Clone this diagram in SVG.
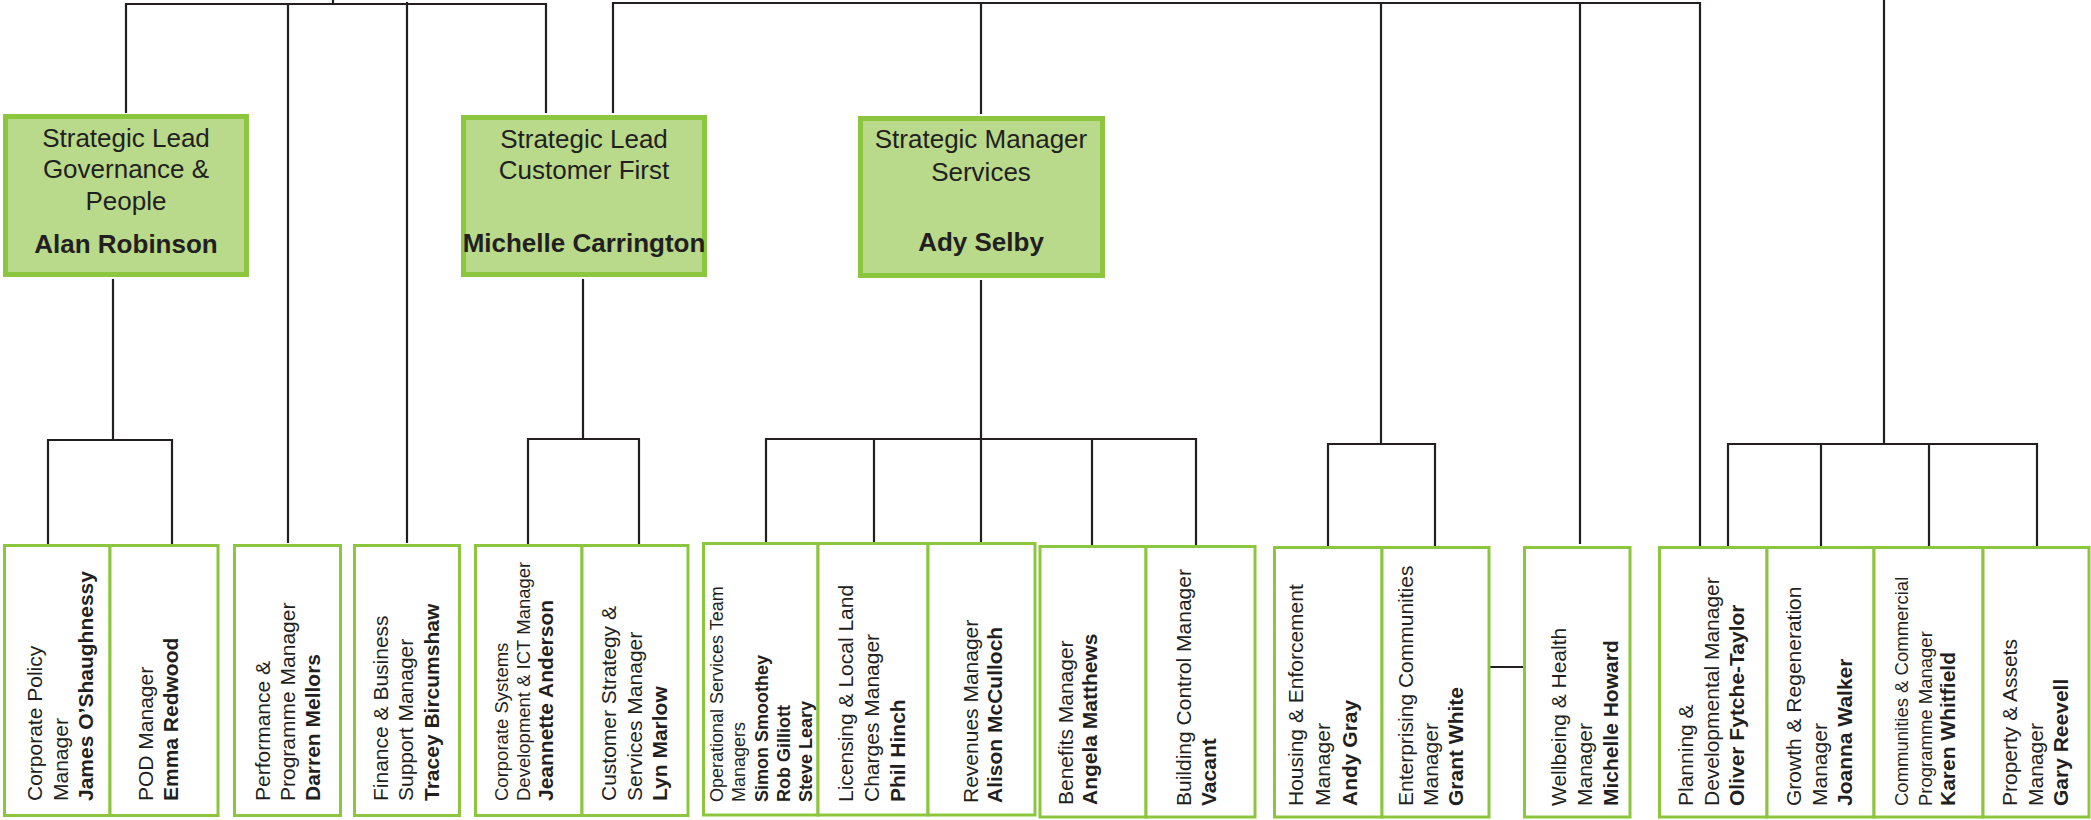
<svg xmlns="http://www.w3.org/2000/svg" width="2091" height="820" viewBox="0 0 2091 820">
<style>
.top{fill:#b9d98b;stroke:#8cc63f;stroke-width:5}
.box{fill:#ffffff;stroke:#8cc63f;stroke-width:3}
.ln{fill:none;stroke:#231f20;stroke-width:2.2}
text{font-family:"Liberation Sans",Arial,sans-serif;fill:#231f20}
.h{font-size:26px;text-anchor:middle}
.hb{font-size:26px;font-weight:bold;text-anchor:middle}
.t{font-size:21px}
.s{font-size:18.5px}
.b{font-weight:bold}
.b21{font-weight:bold;font-size:21px}
</style>
<rect width="2091" height="820" fill="#ffffff"/>
<g id="connectors">
<path class="ln" d="M126,113 V4 H546 V113 M288,4 V543 M407,2 V543 M333,0 V4"/>
<path class="ln" d="M613,113 V3 H1700 V546 M981,3 V114 M1381,3 V444 M1580,3 V544"/>
<path class="ln" d="M1884,0 V444"/>
<path class="ln" d="M113,279 V440 M48,544 V440 H172 V544"/>
<path class="ln" d="M583,279 V439 M528,544 V439 H639 V544"/>
<path class="ln" d="M981,280 V542 M766,542 V439 H1196 V545 M874,439 V542 M1092,439 V545"/>
<path class="ln" d="M1328,546 V444 H1435 V546 M1490,667 H1523"/>
<path class="ln" d="M1728,546 V444 H2037 V546 M1821,444 V546 M1929,444 V546"/>
</g>
<g id="n-alan">
<rect class="top" x="5.5" y="116.5" width="241" height="158"/>
<text class="h" x="126" y="147">Strategic Lead</text>
<text class="h" x="126" y="178">Governance &amp;</text>
<text class="h" x="126" y="210">People</text>
<text class="hb" x="126" y="253">Alan Robinson</text>
</g>
<g id="n-michelle-c">
<rect class="top" x="463.5" y="117.5" width="241" height="157"/>
<text class="h" x="584" y="148">Strategic Lead</text>
<text class="h" x="584" y="179">Customer First</text>
<text class="hb" x="584" y="252">Michelle Carrington</text>
</g>
<g id="n-ady">
<rect class="top" x="860.5" y="118.5" width="242" height="157"/>
<text class="h" x="981" y="148">Strategic Manager</text>
<text class="h" x="981" y="181">Services</text>
<text class="hb" x="981" y="251">Ady Selby</text>
</g>
<g id="n-corp-policy">
<rect class="box" x="4.5" y="545.5" width="105.5" height="270"/>
<text class="t" transform="rotate(-90)"><tspan x="-801" y="42">Corporate Policy</tspan><tspan x="-801" y="68">Manager</tspan><tspan x="-801" y="93" class="b">James O’Shaughnessy</tspan></text>
</g>
<g id="n-pod">
<rect class="box" x="110" y="545.5" width="108" height="270"/>
<text class="t" transform="rotate(-90)"><tspan x="-801" y="153">POD Manager</tspan><tspan x="-801" y="178" class="b">Emma Redwood</tspan></text>
</g>
<g id="n-performance">
<rect class="box" x="234.5" y="545.5" width="106" height="270"/>
<text class="t" transform="rotate(-90)"><tspan x="-801" y="270">Performance &amp;</tspan><tspan x="-801" y="295">Programme Manager</tspan><tspan x="-801" y="320" class="b">Darren Mellors</tspan></text>
</g>
<g id="n-finance">
<rect class="box" x="354.5" y="545.5" width="105" height="270"/>
<text class="t" transform="rotate(-90)"><tspan x="-801" y="388">Finance &amp; Business</tspan><tspan x="-801" y="413">Support Manager</tspan><tspan x="-801" y="439" class="b">Tracey Bircumshaw</tspan></text>
</g>
<g id="n-corp-systems">
<rect class="box" x="475.5" y="545.5" width="106.5" height="270"/>
<text class="s" transform="rotate(-90)"><tspan x="-801" y="508">Corporate Systems</tspan><tspan x="-801" y="530">Development &amp; ICT Manager</tspan><tspan x="-801" y="553" class="b21">Jeannette Anderson</tspan></text>
</g>
<g id="n-customer-strategy">
<rect class="box" x="582" y="545.5" width="106" height="270"/>
<text class="t" transform="rotate(-90)"><tspan x="-801" y="616">Customer Strategy &amp;</tspan><tspan x="-801" y="642">Services Manager</tspan><tspan x="-801" y="667" class="b">Lyn Marlow</tspan></text>
</g>
<g id="n-operational">
<rect class="box" x="703.5" y="543.5" width="114.5" height="271.5"/>
<text font-size="18px" transform="rotate(-90)"><tspan x="-802" y="723">Operational Services Team</tspan><tspan x="-802" y="745">Managers</tspan><tspan x="-802" y="768" class="b">Simon Smoothey</tspan><tspan x="-802" y="790" class="b">Rob Gilliott</tspan><tspan x="-802" y="812" class="b">Steve Leary</tspan></text>
</g>
<g id="n-licensing">
<rect class="box" x="818" y="543.5" width="110" height="271.5"/>
<text class="t" transform="rotate(-90)"><tspan x="-802" y="853">Licensing &amp; Local Land</tspan><tspan x="-802" y="879">Charges Manager</tspan><tspan x="-802" y="905" class="b">Phil Hinch</tspan></text>
</g>
<g id="n-revenues">
<rect class="box" x="928" y="543.5" width="107" height="271.5"/>
<text class="t" transform="rotate(-90)"><tspan x="-803" y="978">Revenues Manager</tspan><tspan x="-803" y="1002" class="b">Alison McCulloch</tspan></text>
</g>
<g id="n-benefits">
<rect class="box" x="1040" y="546.5" width="106" height="270.5"/>
<text class="t" transform="rotate(-90)"><tspan x="-805" y="1073">Benefits Manager</tspan><tspan x="-805" y="1097" class="b">Angela Matthews</tspan></text>
</g>
<g id="n-building-control">
<rect class="box" x="1146" y="546.5" width="109" height="270.5"/>
<text class="t" transform="rotate(-90)"><tspan x="-806" y="1191">Building Control Manager</tspan><tspan x="-806" y="1216" class="b">Vacant</tspan></text>
</g>
<g id="n-housing">
<rect class="box" x="1274.5" y="547.5" width="107.5" height="269.5"/>
<text class="t" transform="rotate(-90)"><tspan x="-806" y="1303">Housing &amp; Enforcement</tspan><tspan x="-806" y="1330">Manager</tspan><tspan x="-806" y="1357" class="b">Andy Gray</tspan></text>
</g>
<g id="n-enterprising">
<rect class="box" x="1382" y="547.5" width="107" height="269.5"/>
<text class="t" transform="rotate(-90)"><tspan x="-806" y="1413">Enterprising Communities</tspan><tspan x="-806" y="1438">Manager</tspan><tspan x="-806" y="1463" class="b">Grant White</tspan></text>
</g>
<g id="n-wellbeing">
<rect class="box" x="1524.5" y="547.5" width="105.5" height="269.5"/>
<text class="t" transform="rotate(-90)"><tspan x="-806" y="1566">Wellbeing &amp; Health</tspan><tspan x="-806" y="1592">Manager</tspan><tspan x="-806" y="1618" class="b">Michelle Howard</tspan></text>
</g>
<g id="n-planning">
<rect class="box" x="1659.5" y="547.5" width="107.5" height="269.5"/>
<text class="t" transform="rotate(-90)"><tspan x="-806" y="1693">Planning &amp;</tspan><tspan x="-806" y="1719">Developmental Manager</tspan><tspan x="-806" y="1744" class="b">Oliver Fytche-Taylor</tspan></text>
</g>
<g id="n-growth">
<rect class="box" x="1767" y="547.5" width="107" height="269.5"/>
<text class="t" transform="rotate(-90)"><tspan x="-806" y="1801">Growth &amp; Regeneration</tspan><tspan x="-806" y="1827">Manager</tspan><tspan x="-806" y="1852" class="b">Joanna Walker</tspan></text>
</g>
<g id="n-communities">
<rect class="box" x="1874" y="547.5" width="109" height="269.5"/>
<text class="s" transform="rotate(-90)"><tspan x="-806" y="1908">Communities &amp; Commercial</tspan><tspan x="-806" y="1932">Programme Manager</tspan><tspan x="-806" y="1955" class="b21">Karen Whitfield</tspan></text>
</g>
<g id="n-property">
<rect class="box" x="1983" y="547.5" width="106" height="269.5"/>
<text class="t" transform="rotate(-90)"><tspan x="-806" y="2017">Property &amp; Assets</tspan><tspan x="-806" y="2043">Manager</tspan><tspan x="-806" y="2068" class="b">Gary Reevell</tspan></text>
</g>
</svg>
